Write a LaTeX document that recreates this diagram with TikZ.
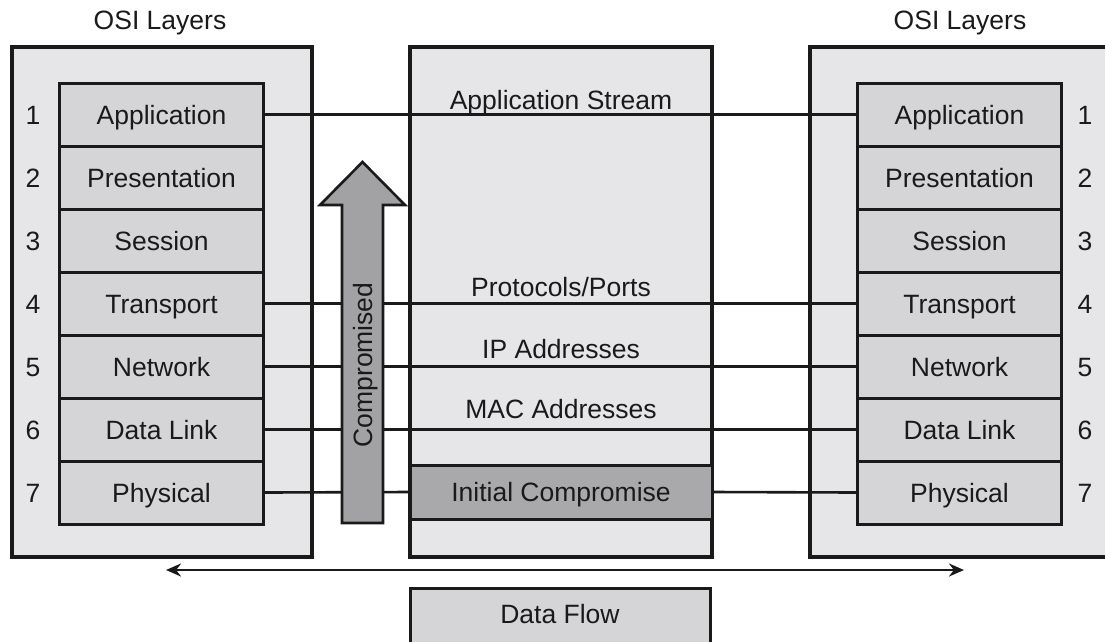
\documentclass[tikz,border=0pt]{standalone}
\usepackage{fontspec}
\setmainfont{Liberation Sans}
\usetikzlibrary{arrows.meta,positioning,calc}
\definecolor{panelgray}{HTML}{E6E6E8}
\definecolor{layergray}{HTML}{D5D5D8}
\definecolor{hitgray}{HTML}{A9A9AB}
\definecolor{arrowgray}{HTML}{A2A2A4}
\definecolor{inkblack}{HTML}{1A1A1A}

\begin{document}
\begin{tikzpicture}[x=1pt, y=-1pt, font=\fontsize{26.5}{30}\selectfont, text=inkblack,
  every node/.style={text height=19pt, text depth=0pt},
  panel/.style={draw=inkblack, line width=3.5pt, fill=panelgray, inner sep=0pt},
  layer/.style={draw=inkblack, line width=3pt, fill=layergray, minimum width=204pt, minimum height=63pt, inner sep=0pt},
  link/.style={draw=inkblack, line width=2.6pt}]
  \useasboundingbox (0,0) rectangle (1105,641);
  \clip (0,0) rectangle (1105,641);
  % the three panels
  \node[panel, minimum width=300pt, minimum height=510pt] (lpanel) at (162,302) {};
  \node[panel, minimum width=302pt, minimum height=510pt] (cpanel) at (561,302) {};
  \node[panel, minimum width=320pt, minimum height=510pt] (rpanel) at (970,302) {};
  \node (ltitle) at (160,20) {OSI Layers};
  \node (rtitle) at (960,20) {OSI Layers};
  % layer stacks
  \foreach \lab [count=\i] in {Application, Presentation, Session, Transport, Network, Data Link, Physical} {
    \pgfmathsetmacro{\yi}{51.5+63*\i}
    \node[layer] (l\i) at (161.5,\yi) {\lab};
    \node[layer] (r\i) at (959.5,\yi) {\lab};
    \node (ln\i) at (33,\yi) {\i};
    \node (rn\i) at (1085,\yi) {\i};
  }
  \node[draw=inkblack, line width=3pt, fill=hitgray, minimum width=302pt, minimum height=54pt, inner sep=0pt] (hit) at (561,492) {Initial Compromise};
  % links between the stacks
  \foreach \i in {1,4,5,6} {
    \draw[link] (l\i.east) -- (r\i.west);
  }
  \draw[link] (l7.east) -- (hit.west);
  \draw[link] (hit.east) -- (r7.west);
  \node (stream) at (561,100) {Application Stream};
  \node (ports) at (561,287) {Protocols/Ports};
  \node (ipaddr) at (561,349) {IP Addresses};
  \node (macaddr) at (561,409) {MAC Addresses};
  % compromised arrow
  \draw[draw=inkblack, line width=2.6pt, fill=arrowgray, line join=miter]
    (342,523) -- (342,205) -- (320,205) -- (362.5,162) -- (405,205) -- (383,205) -- (383,523) -- cycle;
  \node[rotate=90] (comp) at (362.5,365) {Compromised};
  % data flow
  \coordinate (flowl) at (166,570);
  \coordinate (flowr) at (964,570);
  \draw[draw=inkblack, line width=2.6pt, {Stealth[length=15pt,width=13pt]}-{Stealth[length=15pt,width=13pt]}] (flowl) -- (flowr);
  \draw[draw=inkblack, line width=3pt, fill=layergray] (410,588) rectangle (710,670);
  \node (flow) at (560,614) {Data Flow};
\end{tikzpicture}
\end{document}
